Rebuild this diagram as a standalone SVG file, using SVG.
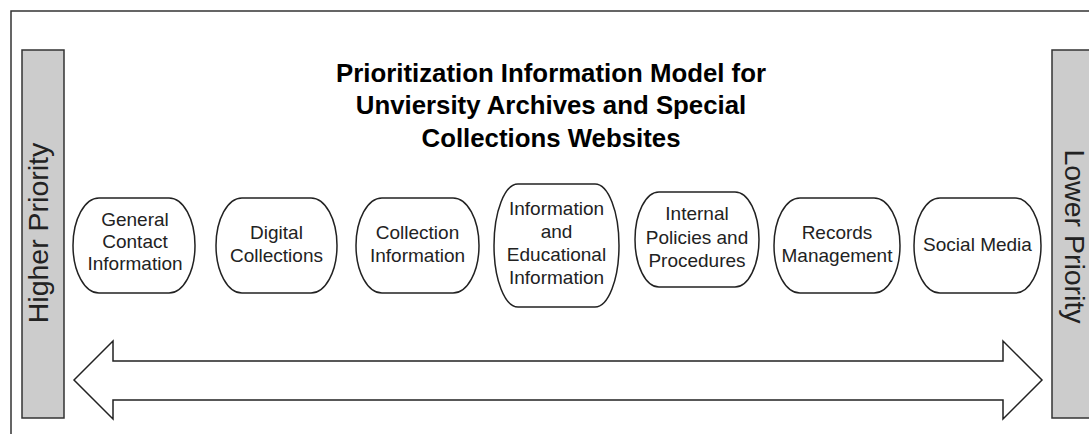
<svg xmlns="http://www.w3.org/2000/svg" width="1089" height="434" viewBox="0 0 1089 434">
<style>
.frame{fill:#fff;stroke:#333;stroke-width:1.5}
.bar{fill:#cccccc;stroke:#333;stroke-width:1.5}
.node{fill:#fff;stroke:#222;stroke-width:1.5}
.arrow{fill:#fff;stroke:#222;stroke-width:1.5;stroke-linejoin:miter}
.title{font-family:"Liberation Sans",Arial,sans-serif;font-weight:bold;font-size:25.8px;fill:#000;text-anchor:middle}
.lbl{font-family:"Liberation Sans",Arial,sans-serif;font-size:19px;fill:#222;text-anchor:middle}
.side{font-family:"Liberation Sans",Arial,sans-serif;font-size:28.5px;fill:#222;text-anchor:middle}
</style>
<rect x="0" y="0" width="1089" height="434" fill="#fff"/>
<rect class="frame" x="11" y="11" width="1100" height="440"/>
<g id="higher-priority">
<rect class="bar" x="22" y="50" width="42" height="368"/>
<text class="side" transform="translate(48,233) rotate(-90)">Higher Priority</text>
</g>
<g id="lower-priority">
<rect class="bar" x="1052" y="50" width="60" height="368"/>
<text class="side" transform="translate(1065,236.5) rotate(90)">Lower Priority</text>
</g>
<g id="title">
<text class="title" x="551" y="82">Prioritization Information Model for</text>
<text class="title" x="551" y="114">Unviersity Archives and Special</text>
<text class="title" x="551" y="147">Collections Websites</text>
</g>
<g id="connectors">
<polygon class="arrow" points="74,380 113,341 113,361 1003,361 1003,341 1042,380 1003,419 1003,400 113,400 113,419"/>
</g>
<g id="n1">
<rect class="node" x="73" y="198" width="122" height="95" rx="26" ry="47.5"/>
<text class="lbl" x="135" y="226">General</text>
<text class="lbl" x="135" y="248">Contact</text>
<text class="lbl" x="135" y="270">Information</text>
</g>
<g id="n2">
<rect class="node" x="216" y="198" width="121" height="95" rx="26" ry="47.5"/>
<text class="lbl" x="276.5" y="239">Digital</text>
<text class="lbl" x="276.5" y="262">Collections</text>
</g>
<g id="n3">
<rect class="node" x="356" y="198" width="123" height="95" rx="26" ry="47.5"/>
<text class="lbl" x="417.5" y="239">Collection</text>
<text class="lbl" x="417.5" y="262">Information</text>
</g>
<g id="n4">
<rect class="node" x="494" y="184" width="125" height="123" rx="24" ry="61.5"/>
<text class="lbl" x="556.5" y="215">Information</text>
<text class="lbl" x="556.5" y="238">and</text>
<text class="lbl" x="556.5" y="261">Educational</text>
<text class="lbl" x="556.5" y="284">Information</text>
</g>
<g id="n5">
<rect class="node" x="635" y="192" width="124" height="95" rx="24" ry="47.5"/>
<text class="lbl" x="697" y="220">Internal</text>
<text class="lbl" x="697" y="244">Policies and</text>
<text class="lbl" x="697" y="267">Procedures</text>
</g>
<g id="n6">
<rect class="node" x="774" y="198" width="126" height="95" rx="26" ry="47.5"/>
<text class="lbl" x="837" y="239">Records</text>
<text class="lbl" x="837" y="262">Management</text>
</g>
<g id="n7">
<rect class="node" x="914" y="198" width="127" height="95" rx="26" ry="47.5"/>
<text class="lbl" x="977.5" y="251">Social Media</text>
</g>
</svg>
